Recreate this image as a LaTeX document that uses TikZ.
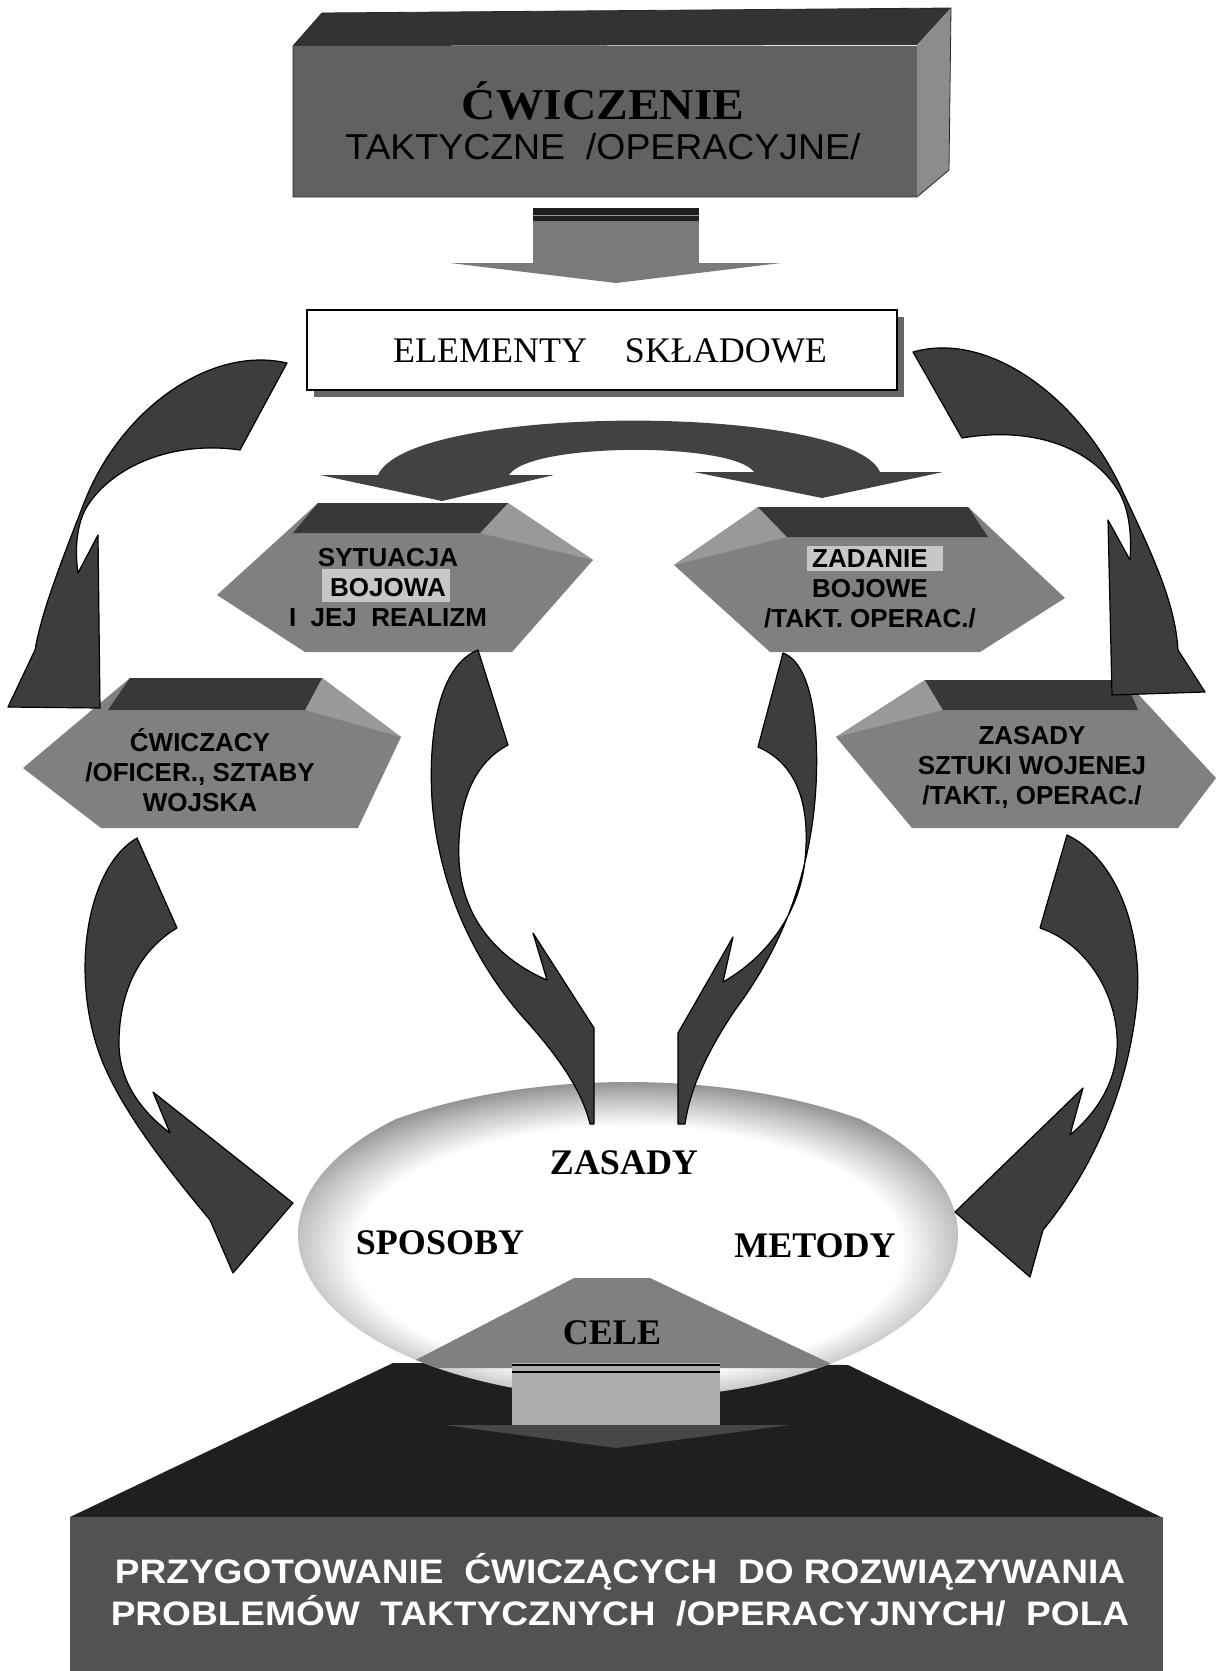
\documentclass[tikz,border=0pt]{standalone}
\usepackage{fontspec}
\setmainfont{Liberation Serif}
\newfontfamily\arial{Liberation Sans}
\pgfdeclareradialshading{ringshade}{\pgfpoint{0bp}{0bp}}{color(0bp)=(white); color(18.5bp)=(white); color(22.5bp)=(black!25); color(25bp)=(black!42); color(50bp)=(black!42)}
\tikzset{
  curvarrow/.style={fill=black!76, draw=black, line width=1.2pt, line join=round},
  hexbody/.style={fill=black!50},
  hextop/.style={fill=black!78},
  hexside/.style={fill=black!40},
  hilite/.style={fill=black!22},
  hextext/.style={font=\arial\bfseries\fontsize{26}{30}\selectfont, align=center, inner sep=0pt},
  elltext/.style={font=\bfseries\fontsize{36}{40}\selectfont, inner sep=0pt},
  bottext/.style={font=\arial\bfseries\fontsize{34}{38}\selectfont, text=white, inner sep=0pt},
}
\begin{document}
\begin{tikzpicture}[x=1pt,y=-1pt]
\path[use as bounding box, fill=white] (0,0) rectangle (1220,1671);

% ---------- top 3D box ----------
\fill[black!80] (293,46) -- (322,13) -- (951,8) -- (917,45) -- cycle;
\fill[black!45] (917,45) -- (951,8) -- (949,170) -- (917,197) -- cycle;
\fill[black!62] (293,46) rectangle (917,197);
\draw[black!85, line width=0.8pt] (293,46) -- (322,13) -- (951,8) -- (949,170) -- (917,197) -- (293,197) -- cycle;
\node[font=\bfseries\fontsize{44}{48}\selectfont, inner sep=0pt] (title) at (603,101) {\scalebox{1.08}[1]{ĆWICZENIE}};
\node[font=\arial\fontsize{36}{40}\selectfont, inner sep=0pt] (subtitle) at (603,147) {\scalebox{1.04}[1]{TAKTYCZNE\ \ /OPERACYJNE/}};

% ---------- down arrow ----------
\fill[black!52] (533,208) rectangle (699,263);
\fill[black!88] (533,208) rectangle (699,221);
\draw[black!40, line width=1pt] (533,215) -- (699,215);
\fill[black!52] (450,263) -- (781,263) -- (616,283) -- cycle;

% ---------- ELEMENTY SKŁADOWE ----------
\fill[black!60] (314,317) rectangle (904,397);
\node[draw=black, line width=1.5pt, fill=white, minimum width=590pt, minimum height=80pt, inner sep=0pt] (elem) at (602,350) {};
\node[font=\fontsize{36}{40}\selectfont, inner sep=0pt] (elemtext) at (610,351) {ELEMENTY\hspace{38pt}SKŁADOWE};

% ---------- arch double arrow ----------
\fill[black!74] (320,475) -- (442,501) -- (554,475) -- (509,475)
  .. controls (530,442) and (733,442) .. (754,472)
  -- (694,472) -- (822,498) -- (943,472) -- (880,472)
  .. controls (850,403) and (410,403) .. (378,475) -- cycle;

% ---------- hexagon SYTUACJA ----------
\fill[hexbody] (217,595) -- (318,503) -- (508,503) -- (593,560) -- (512,652) -- (305,652) -- cycle;
\fill[hexside] (508,503) -- (593,560) -- (480,533) -- cycle;
\fill[hextop] (318,503) -- (508,503) -- (480,533) -- (293,533) -- cycle;
\fill[hilite] (322,569) rectangle (450,602);
\node[hextext] (sit) at (388,588) {SYTUACJA\\BOJOWA\\I\ \ JEJ\ \ REALIZM};

% ---------- hexagon ZADANIE ----------
\fill[hexbody] (674,565) -- (758,507) -- (968,507) -- (1065,598) -- (980,652) -- (770,652) -- cycle;
\fill[hexside] (758,507) -- (674,565) -- (787,537) -- cycle;
\fill[hextop] (758,507) -- (968,507) -- (988,537) -- (787,537) -- cycle;
\fill[hilite] (807,546) rectangle (943,571);
\node[hextext] (zad) at (870,589) {ZADANIE\\BOJOWE\\/TAKT. OPERAC./};

% ---------- hexagon ĆWICZACY ----------
\fill[hexbody] (23,768) -- (130,678) -- (322,678) -- (401,737) -- (358,828) -- (101,828) -- cycle;
\fill[hexside] (322,678) -- (401,737) -- (305,710) -- cycle;
\fill[hextop] (130,678) -- (322,678) -- (305,710) -- (108,710) -- cycle;
\node[hextext] (cwi) at (200,770) {ĆWICZACY\\/OFICER., SZTABY\\WOJSKA};

% ---------- hexagon ZASADY SZTUKI ----------
\fill[hexbody] (836,737) -- (925,680) -- (1125,680) -- (1216,778) -- (1178,828) -- (912,828) -- cycle;
\fill[hexside] (925,680) -- (836,737) -- (943,710) -- cycle;
\fill[hextop] (925,680) -- (1125,680) -- (1138,710) -- (943,710) -- cycle;
\node[hextext] (zas) at (1032,767) {ZASADY\\SZTUKI WOJENEJ\\/TAKT., OPERAC./};

% ---------- big curved arrows (top) ----------
\path[curvarrow] (287,363) .. controls (210,345) and (120,410) .. (84,503)
  .. controls (62,560) and (42,610) .. (35,650) -- (8,707) -- (100,708) -- (98,535) -- (78,573)
  .. controls (74,545) and (78,520) .. (88,505)
  .. controls (112,468) and (170,440) .. (240,450) -- cycle;
\path[curvarrow] (913,352) .. controls (990,330) and (1080,400) .. (1121,488)
  .. controls (1150,550) and (1175,600) .. (1178,650) -- (1205,692) -- (1112,695) -- (1108,520) -- (1130,560)
  .. controls (1132,530) and (1128,508) .. (1119,492)
  .. controls (1095,452) and (1040,425) .. (962,438) -- cycle;

% ---------- bottom pyramid ----------
\fill[black!88] (70,1517) -- (393,1363) -- (848,1365) -- (1163,1518) -- cycle;
\fill[black!68] (70,1517) rectangle (1163,1671);

% ---------- ellipse ----------
\begin{scope}
  \clip (628,1235) ellipse [x radius=330, y radius=163];
  \shade[shading=ringshade] (628,1250) ellipse [x radius=370, y radius=168];
  \fill[black!50] (574,1278) -- (650,1278) -- (840,1368) -- (400,1368) -- cycle;
\end{scope}

% ---------- small arrow ----------
\fill[black!72] (445,1425) -- (790,1425) -- (616,1448) -- cycle;
\fill[black!32] (512,1363) rectangle (720,1425);
\draw[black, line width=2pt] (512,1365) -- (720,1365);
\draw[black, line width=2pt] (512,1372) -- (720,1372);

% ---------- central curved arrows ----------
\path[curvarrow] (478,650) .. controls (440,665) and (428,730) .. (432,800)
  .. controls (438,880) and (470,960) .. (530,1025)
  .. controls (565,1065) and (583,1095) .. (590,1124) -- (594,1124) -- (594,1028) -- (533,933) -- (547,980)
  .. controls (500,960) and (462,920) .. (459,860)
  .. controls (457,810) and (470,765) .. (508,745) -- cycle;
\path[curvarrow] (783,653) .. controls (815,665) and (820,740) .. (815,800)
  .. controls (808,880) and (780,950) .. (735,1010)
  .. controls (705,1055) and (690,1090) .. (685,1124) -- (678,1124) -- (678,1033) -- (733,937) -- (723,982)
  .. controls (770,955) and (800,910) .. (805,860)
  .. controls (810,810) and (800,765) .. (758,747) -- cycle;

% ---------- lower curved arrows ----------
\path[curvarrow] (137,838) .. controls (90,865) and (72,960) .. (95,1040)
  .. controls (110,1095) and (160,1160) .. (210,1220) -- (233,1273) -- (293,1203) -- (153,1092) -- (170,1133)
  .. controls (140,1110) and (118,1080) .. (119,1040)
  .. controls (120,990) and (140,950) .. (177,928) -- cycle;
\path[curvarrow] (1067,835) .. controls (1120,860) and (1145,940) .. (1136,1010)
  .. controls (1128,1080) and (1100,1160) .. (1043,1230) -- (1030,1277) -- (955,1212) -- (1083,1088) -- (1070,1135)
  .. controls (1100,1110) and (1115,1080) .. (1117,1050)
  .. controls (1120,1000) and (1090,945) .. (1040,928) -- cycle;

% ---------- ellipse texts ----------
\node[elltext] (zasady) at (624,1163) {ZASADY};
\node[elltext] (sposoby) at (440,1243) {SPOSOBY};
\node[elltext] (metody) at (815,1246) {METODY};
\node[elltext] (cele) at (612,1333) {CELE};

% ---------- bottom texts ----------
\node[bottext] (goal1) at (620,1572) {\scalebox{1.09}[1]{PRZYGOTOWANIE\ \ ĆWICZĄCYCH\ \ DO ROZWIĄZYWANIA}};
\node[bottext] (goal2) at (620,1611) {\scalebox{1.09}[1]{PROBLEMÓW\ \ TAKTYCZNYCH\ \ /OPERACYJNYCH/\ \ POLA}};
\end{tikzpicture}
\end{document}
